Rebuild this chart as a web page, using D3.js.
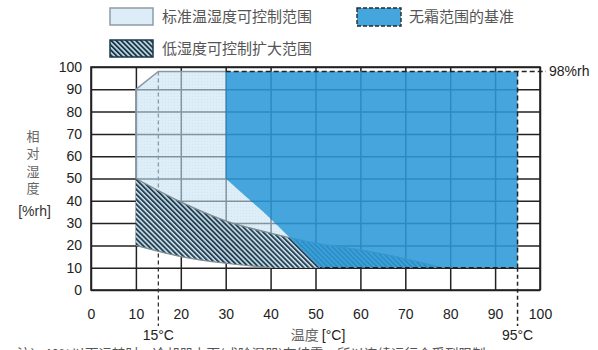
<!DOCTYPE html>
<html>
<head>
<meta charset="utf-8">
<script src="https://cdn.jsdelivr.net/npm/d3@7"></script>
<style>
  body { margin: 0; background: #fff; }
  svg { display: block; }
</style>
</head>
<body>
<script>
// Axis ticks (temperature °C, relative humidity %rh)
const xTicks = [0, 10, 20, 30, 40, 50, 60, 70, 80, 90, 100];
const yTicks = [0, 10, 20, 30, 40, 50, 60, 70, 80, 90, 100];

// Standard controllable range: left / top edge [temp, rh]
const standardEdge = [[10, 50], [10, 90], [15, 98], [30, 98]];
// Frost-free reference range: lower-left curved edge
const frostEdge = [[30, 50], [35, 41], [40, 32], [45, 22], [51, 10]];
const frostBox = { left: 30, right: 95, top: 98, bottom: 10 };
// Extended low-humidity range: upper and lower edges
const lowUpper = [[10, 50], [20, 39.5], [30, 31], [40, 25.5], [50, 21], [60, 18], [70, 14], [78, 10]];
const lowLower = [[10, 20], [20, 15], [30, 12], [40, 10]];
// Marked temperature limits
const markTemps = [15, 95];
const markRh = 98;

const legendItems = ["标准温湿度可控制范围", "无霜范围的基准", "低湿度可控制扩大范围"];
const noteText = "注）40%以下运转时，冷却器上面(或除湿器)有结霜，所以连续运行会受到限制";

const W = 598, H = 350;
const LATIN = "'Liberation Sans', Arial, 'Noto Sans CJK SC', sans-serif";
const CJK = "'Noto Sans CJK SC', 'Liberation Sans', sans-serif";

const x = d3.scaleLinear().domain([0, 100]).range([91, 540]);
const y = d3.scaleLinear().domain([0, 100]).range([290, 67]);

const svg = d3.select("body").append("svg").attr("width", W).attr("height", H);
const defs = svg.append("defs");

// diagonal hatch for the low-humidity range
const hatch = defs.append("pattern").attr("id", "hatch")
  .attr("patternUnits", "userSpaceOnUse").attr("width", 3.5).attr("height", 10)
  .attr("patternTransform", "rotate(-45)");
hatch.append("rect").attr("width", 3.5).attr("height", 10).attr("fill", "#cfe7f3");
hatch.append("rect").attr("width", 1.95).attr("height", 10).attr("fill", "#1d3849");

// fine dot texture for the standard range
const dots = defs.append("pattern").attr("id", "dots")
  .attr("patternUnits", "userSpaceOnUse").attr("width", 3).attr("height", 3);
dots.append("rect").attr("width", 3).attr("height", 3).attr("fill", "#c6e2f4");
dots.append("rect").attr("width", 1).attr("height", 1).attr("fill", "#b0d2ea");

// path helpers
const lin = d3.line().x(d => x(d[0])).y(d => y(d[1]));
const crv = d3.line().x(d => x(d[0])).y(d => y(d[1])).curve(d3.curveCatmullRom.alpha(0.5));
const cont = s => s.replace(/^M/, "L");

// ---- grid ----
const plotH = y(0) - y(100), plotW = x(100) - x(0);
const gridX = svg.append("g").attr("transform", `translate(0,${y(0)})`)
  .call(d3.axisBottom(x).tickValues(xTicks).tickSize(-plotH).tickFormat(""));
const gridY = svg.append("g").attr("transform", `translate(${x(0)},0)`)
  .call(d3.axisLeft(y).tickValues(yTicks).tickSize(-plotW).tickFormat(""));
[gridX, gridY].forEach(g => {
  g.select(".domain").remove();
  g.selectAll(".tick line").attr("stroke", "#222").attr("stroke-width", 1.5);
});
svg.append("rect").attr("x", x(0)).attr("y", y(100)).attr("width", plotW).attr("height", plotH)
  .attr("fill", "none").attr("stroke", "#222").attr("stroke-width", 1.6);

// 15°C marker (runs beneath the ranges)
svg.append("line")
  .attr("x1", x(markTemps[0])).attr("x2", x(markTemps[0]))
  .attr("y1", y(markRh)).attr("y2", 326)
  .attr("stroke", "#333").attr("stroke-width", 1.3).attr("stroke-dasharray", "4,3");

// ---- standard range ----
const standardPath = lin(standardEdge) + cont(crv(frostEdge)) +
  cont(lin([[frostEdge[frostEdge.length - 1][0], 10], [lowLower[lowLower.length - 1][0], 10]])) +
  cont(crv(lowLower.slice().reverse())) + "Z";
svg.append("path").attr("d", standardPath).attr("fill", "url(#dots)").attr("opacity", 0.6);
svg.append("path").attr("d", lin(standardEdge)).attr("fill", "none")
  .attr("stroke", "#8a98a2").attr("stroke-width", 1.5);

// ---- extended low-humidity range ----
const lastUp = lowUpper[lowUpper.length - 1];
const lowPath = crv(lowUpper) +
  cont(lin([lastUp, lowLower[lowLower.length - 1]])) +
  cont(crv(lowLower.slice().reverse())) + "Z";
svg.append("path").attr("d", lowPath).attr("fill", "url(#hatch)").attr("opacity", 0.95);
svg.append("path").attr("d", crv(lowUpper)).attr("fill", "none")
  .attr("stroke", "#7f8b93").attr("stroke-width", 1.3);
svg.append("path").attr("d", crv(lowLower)).attr("fill", "none")
  .attr("stroke", "#7f8b93").attr("stroke-width", 1.2);

// ---- frost-free reference range ----
const fb = frostBox;
const frostPath = lin([[fb.left, fb.top], [fb.right, fb.top], [fb.right, fb.bottom],
  [frostEdge[frostEdge.length - 1][0], fb.bottom]]) +
  cont(crv(frostEdge.slice().reverse())) + "Z";
svg.append("path").attr("d", frostPath).attr("fill", "#2b99d7").attr("opacity", 0.88);

const dashed = { stroke: "#222", "stroke-width": 1.5, "stroke-dasharray": "5,3", fill: "none" };
const applyDash = sel => { Object.entries(dashed).forEach(([k, v]) => sel.attr(k, v)); return sel; };
applyDash(svg.append("path").attr("d",
  lin([[fb.right, fb.top], [fb.right, fb.bottom], [frostEdge[frostEdge.length - 1][0], fb.bottom]])));
applyDash(svg.append("line").attr("x1", x(fb.left)).attr("x2", 546)
  .attr("y1", y(markRh)).attr("y2", y(markRh)));
applyDash(svg.append("line").attr("x1", x(markTemps[1])).attr("x2", x(markTemps[1]))
  .attr("y1", y(fb.bottom)).attr("y2", 326)).attr("stroke-dasharray", "4,3");

svg.append("text").attr("x", 549).attr("y", y(markRh) + 5)
  .attr("font-family", LATIN).attr("font-size", 14).attr("fill", "#222").text(markRh + "%rh");

// ---- tick labels ----
const xl = svg.append("g").attr("transform", `translate(0,${y(0)})`)
  .call(d3.axisBottom(x).tickValues(xTicks).tickSize(0));
xl.selectAll("text").attr("y", 29).attr("dy", null);
const yl = svg.append("g").attr("transform", `translate(${x(0)},0)`)
  .call(d3.axisLeft(y).tickValues(yTicks).tickSize(0).tickPadding(9));
[xl, yl].forEach(g => {
  g.select(".domain").remove();
  g.selectAll("text").attr("font-family", LATIN).attr("font-size", 14).attr("fill", "#222");
});

// marker labels and axis titles
markTemps.forEach(t => {
  svg.append("text").attr("x", x(t)).attr("y", 340).attr("text-anchor", "middle")
    .attr("font-family", LATIN).attr("font-size", 14).attr("fill", "#222").text(t + "°C");
});
const xt = svg.append("text").attr("x", 318).attr("y", 340).attr("text-anchor", "middle")
  .attr("font-size", 14);
xt.append("tspan").attr("font-family", CJK).attr("fill", "#666").text("温度 ");
xt.append("tspan").attr("font-family", LATIN).attr("fill", "#222").text("[°C]");

["相", "对", "湿", "度"].forEach((c, i) => {
  svg.append("text").attr("x", 33).attr("y", 141 + i * 17.3).attr("text-anchor", "middle")
    .attr("font-family", CJK).attr("font-size", 13).attr("fill", "#666").text(c);
});
svg.append("text").attr("x", 34.5).attr("y", 216).attr("text-anchor", "middle")
  .attr("font-family", LATIN).attr("font-size", 14).attr("fill", "#333").text("[%rh]");

// ---- legend ----
svg.append("rect").attr("x", 110).attr("y", 8).attr("width", 43).attr("height", 17)
  .attr("fill", "#dcedf8").attr("stroke", "#8d9ca6").attr("stroke-width", 1.5);
svg.append("rect").attr("x", 357).attr("y", 8).attr("width", 44).attr("height", 18)
  .attr("fill", "#45a6dd").attr("stroke", "#2a2a2a").attr("stroke-width", 1.4)
  .attr("stroke-dasharray", "4,2");
svg.append("rect").attr("x", 110).attr("y", 40).attr("width", 43).attr("height", 17)
  .attr("fill", "url(#hatch)").attr("stroke", "#1d3849").attr("stroke-width", 1.5);
[[162, 17], [409, 17], [162, 48.5]].forEach(([lx, ly], i) => {
  svg.append("text").attr("x", lx).attr("y", ly).attr("dy", "0.36em")
    .attr("font-family", CJK).attr("font-size", 15).attr("fill", "#555").text(legendItems[i]);
});

// footnote (runs off the bottom edge of the figure)
svg.append("text").attr("x", 17).attr("y", 359).attr("font-family", CJK)
  .attr("font-size", 13.5).attr("fill", "#555").text(noteText);
</script>
</body>
</html>
